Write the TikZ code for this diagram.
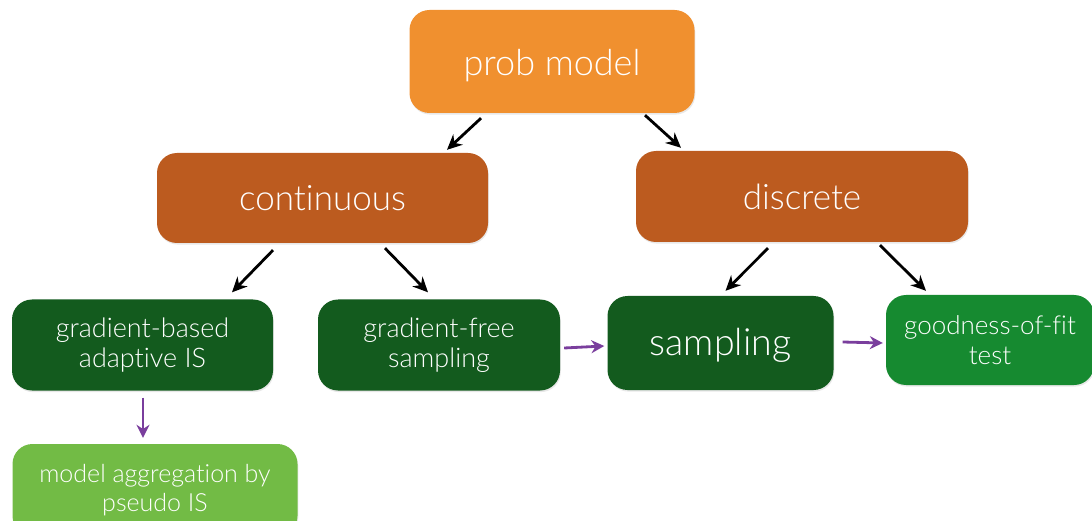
\documentclass[tikz,border=0pt]{standalone}
\usepackage{fontspec}
\setmainfont{Lato}[UprightFont=* Light, Ligatures=NoCommon]
\usetikzlibrary{arrows.meta,shadows}

\definecolor{orangetop}{HTML}{F0902F}
\definecolor{rust}{HTML}{BC5B1F}
\definecolor{darkgreen}{HTML}{135B1E}
\definecolor{midgreen}{HTML}{168A30}
\definecolor{lightgreen}{HTML}{72BB45}
\definecolor{flowpurple}{HTML}{7A3E9D}

\tikzset{
  box/.style={rounded corners=20pt, text=white, align=center, inner sep=0pt,
    drop shadow={shadow xshift=0.8pt, shadow yshift=-1.6pt, opacity=0.18}},
  tree/.style={-{Stealth[length=15pt,width=14pt]}, line width=2.8pt, black},
  flow/.style={-{Stealth[length=13pt,width=13pt]}, line width=2.8pt, flowpurple},
}

\begin{document}
\begin{tikzpicture}[x=1pt,y=-1pt]
\useasboundingbox (0,0) rectangle (1092,521);

% root
\node[box, fill=orangetop, minimum width=285pt, minimum height=103pt,
      text height=35pt, text depth=7pt,
      font=\fontsize{36}{40}\selectfont] (prob) at (552,61.5) {prob model};

% model classes
\node[box, fill=rust, minimum width=331pt, minimum height=90pt,
      font=\fontsize{35}{40}\selectfont] (cont) at (322.5,198) {continuous};
\node[box, fill=rust, minimum width=332pt, minimum height=91pt,
      font=\fontsize{35}{40}\selectfont] (disc) at (802,196.5) {discrete};

% methods
\node[box, fill=darkgreen, minimum width=261pt, minimum height=91pt,
      font=\fontsize{27}{30}\selectfont] (gb) at (142.5,345) {gradient-based\\adaptive IS};
\node[box, fill=darkgreen, minimum width=242pt, minimum height=91pt,
      font=\fontsize{27}{30}\selectfont] (gf) at (439,345) {gradient-free\\sampling};
\node[box, fill=darkgreen, minimum width=226pt, minimum height=94pt,
      text height=33pt, text depth=7.5pt,
      font=\fontsize{37.5}{42}\selectfont] (samp) at (720.5,343) {sampling};
\node[box, fill=midgreen, minimum width=208pt, minimum height=90pt,
      font=\fontsize{26}{30}\selectfont] (gof) at (990,340) {goodness-of-fit\\test};

% follow-up
\node[box, fill=lightgreen, minimum width=285pt, minimum height=92pt,
      font=\fontsize{25}{29}\selectfont] (agg) at (155,490) {model aggregation by\\pseudo IS};

% tree connectors
\draw[tree] ([xshift=-71pt,yshift=-5pt]prob.south) -- ([xshift=124.5pt,yshift=3pt]cont.north);
\draw[tree] ([xshift=93pt,yshift=-2pt]prob.south) -- ([xshift=-121pt,yshift=3pt]disc.north);
\draw[tree] ([xshift=-49.5pt,yshift=-7pt]cont.south) -- ([xshift=89.5pt,yshift=7pt]gb.north);
\draw[tree] ([xshift=62.5pt,yshift=-5pt]cont.south) -- ([xshift=-11pt,yshift=7pt]gf.north);
\draw[tree] ([xshift=-34pt,yshift=-6pt]disc.south) -- ([xshift=5pt,yshift=5pt]samp.north);
\draw[tree] ([xshift=78pt,yshift=-3pt]disc.south) -- ([xshift=-64pt,yshift=4pt]gof.north);

% flow connectors
\draw[flow] ([xshift=4pt,yshift=-3pt]gf.east) -- ([xshift=-3pt,yshift=-3pt]samp.west);
\draw[flow] ([xshift=9pt,yshift=1pt]samp.east) -- ([xshift=-3pt,yshift=-3pt]gof.west);
\draw[flow] ([xshift=0.5pt,yshift=-7pt]gb.south) -- ([xshift=-12pt,yshift=6pt]agg.north);
\end{tikzpicture}
\end{document}
